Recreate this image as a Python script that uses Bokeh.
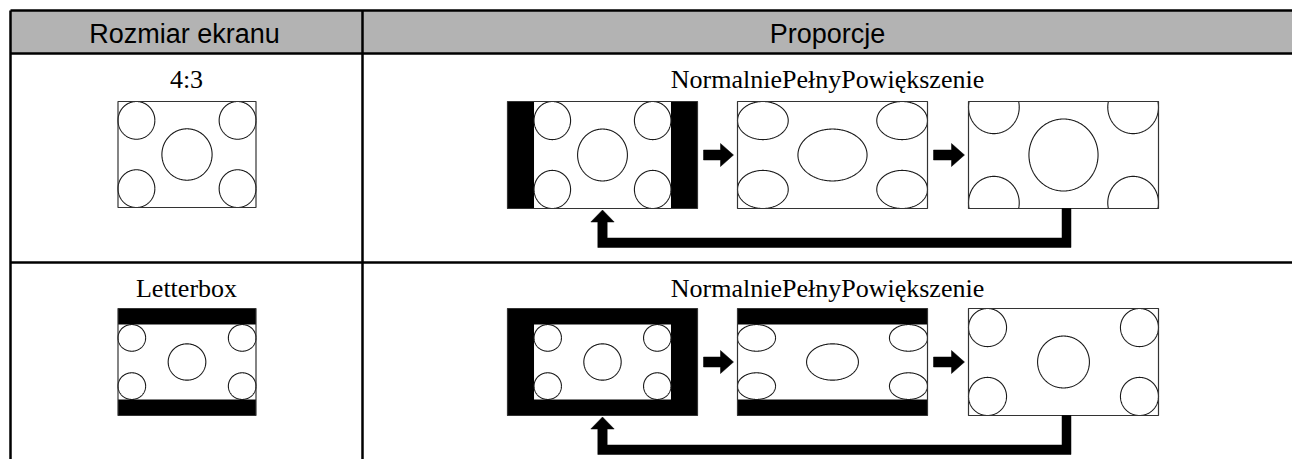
import numpy as np
from bokeh.plotting import figure
from bokeh.models import Range1d
from bokeh.core.properties import value
from bokeh.embed import file_html
from bokeh.resources import INLINE

# ---------------- content ----------------
header_labels = ["Rozmiar ekranu", "Proporcje"]
screen_sizes = ["4:3", "Letterbox"]
modes = ["Normalnie", "Pełny", "Powiększenie"]
mode_keys = ["normal", "full", "zoom"]
picture_aspects = [4 / 3, 16 / 9]       # aspect of the picture itself
letterbox_fill = [1.0, 0.70]            # share of 4:3 signal height covered by the picture

# ---------------- layout ----------------
W, H = 1292, 459
X0, Y0 = 0, 0
TL, TT = 10, 10          # table left / top
HB, RB = 53, 262         # header bottom, row divider
CD = 362                 # column divider
TR, TB = 1300, 470       # table right / bottom (outside window)
header_base = 33
label_base = [79, 288]
scr_top = [101, 308]
scr_h = 107
col1_w, col1_h = 138, 107
mode_w = 190
mode_x = [507, 737, 968]
SIG = 1.28               # displayed 4:3 signal aspect
R_CORNER, R_CENTER = 0.178, 0.2425
GRAY = "#b3b3b3"

p = figure(width=W, height=H, x_range=Range1d(X0, X0 + W), y_range=Range1d(Y0 + H, Y0),
           output_backend="svg", toolbar_location=None,
           x_axis_location=None, y_axis_location=None, min_border=0)
p.outline_line_color = None
p.grid.visible = False
p.background_fill_color = "white"
p.border_fill_color = "white"

# ---------------- table ----------------
p.quad(left=[TL], right=[TR], top=[TT], bottom=[HB], fill_color=GRAY, line_color=None)
p.segment(x0=[TL, TL, TL, TL, CD], y0=[TT, HB, RB, TT, TT],
          x1=[TR, TR, TR, TL, CD], y1=[TT, HB, RB, TB, TB],
          line_color="black", line_width=2.5)

col1_cx = (TL + CD) / 2
col2_cx = (CD + 1292) / 2
p.text(x=[col1_cx - 2, col2_cx], y=[header_base, header_base], text=header_labels,
       text_font=value("Liberation Sans"), text_font_size="27px",
       text_align="center", text_baseline="alphabetic", text_color="black")
p.text(x=[col1_cx, col1_cx, col2_cx, col2_cx], y=[label_base[0], label_base[1]] * 2,
       text=screen_sizes + ["".join(modes)] * 2,
       text_font=value("Liberation Serif"), text_font_size="26px",
       text_align="center", text_baseline="alphabetic", text_color="black")

# ---------------- panels ----------------
blk = dict(l=[], r=[], t=[], b=[])
wht = dict(l=[], r=[], t=[], b=[])
outl = dict(l=[], r=[], t=[], b=[])
cxs, cys = [], []


def add_box(d, x, y, w, h):
    d["l"].append(x); d["r"].append(x + w); d["t"].append(y); d["b"].append(y + h)


def panel(sx, sy, sw, sh, row, mode):
    if mode == "screen":
        sig = (sx, sy, sw, sh)
    elif mode == "normal":
        w = sh * SIG
        sig = (sx + (sw - w) / 2, sy, w, sh)
    elif mode == "full":
        sig = (sx, sy, sw, sh)
    else:  # zoom
        h = sw / SIG
        sig = (sx, sy + (sh - h) / 2, sw, h)
    if row == 1 and mode == "zoom":
        img = (sx, sy, sw, sh)
    else:
        ih = sig[3] * letterbox_fill[row]
        img = (sig[0], sig[1] + (sig[3] - ih) / 2, sig[2], ih)
    ix, iy, iw, ih = img
    vx0, vx1 = max(ix, sx), min(ix + iw, sx + sw)
    vy0, vy1 = max(iy, sy), min(iy + ih, sy + sh)
    add_box(blk, sx, sy, sw, sh)
    add_box(wht, vx0, vy0, vx1 - vx0, vy1 - vy0)
    add_box(outl, sx, sy, sw, sh)
    a = picture_aspects[row]
    circles = [(R_CORNER, R_CORNER, R_CORNER), (a - R_CORNER, R_CORNER, R_CORNER),
               (R_CORNER, 1 - R_CORNER, R_CORNER), (a - R_CORNER, 1 - R_CORNER, R_CORNER),
               (a / 2, 0.5, R_CENTER)]
    t = np.linspace(0, 2 * np.pi, 241)
    for cu, cv, r in circles:
        u = cu + r * np.cos(t)
        v = cv + r * np.sin(t)
        x = np.clip(ix + u / a * iw, vx0, vx1)
        y = np.clip(iy + v * ih, vy0, vy1)
        cxs.append(x.tolist()); cys.append(y.tolist())


arrows_x, arrows_y = [], []


def arrow_right(x0, x1, yc):
    arrows_x.append([x0, x1 - 13, x1 - 13, x1, x1 - 13, x1 - 13, x0])
    arrows_y.append([yc - 5, yc - 5, yc - 11.5, yc, yc + 11.5, yc + 5, yc + 5])


def loop(xa, xc, yb):
    tip = yb + 1.5
    base = tip + 12
    bot = yb + 39
    th = 9.5
    arrows_x.append([xc - 4.5, xc + 4.5, xc + 4.5, xa - 4.7, xa - 4.7, xa - 11.7, xa,
                     xa + 11.7, xa + 4.7, xa + 4.7, xc - 4.5])
    arrows_y.append([yb, yb, bot, bot, base, base, tip, base, base, bot - th, bot - th])


for row in range(2):
    sy = scr_top[row]
    panel(col1_cx + 0.5 - col1_w / 2, sy, col1_w, col1_h - (1 if row == 0 else 0), row, "screen")
    for k, mk in enumerate(mode_keys):
        panel(mode_x[k], sy, mode_w, scr_h, row, mk)
    yc = sy + scr_h / 2
    for k in range(2):
        arrow_right(mode_x[k] + mode_w + 6, mode_x[k + 1] - 4, yc)
    loop(mode_x[0] + mode_w / 2, mode_x[2] + mode_w / 2 + 3, sy + scr_h)

p.quad(left=blk["l"], right=blk["r"], top=blk["t"], bottom=blk["b"],
       fill_color="black", line_color=None)
p.quad(left=wht["l"], right=wht["r"], top=wht["t"], bottom=wht["b"],
       fill_color="white", line_color=None)
p.multi_line(xs=cxs, ys=cys, line_color="#1a1a1a", line_width=1.1)
p.quad(left=outl["l"], right=outl["r"], top=outl["t"], bottom=outl["b"],
       fill_color=None, line_color="#333333", line_width=1.2)
p.patches(xs=arrows_x, ys=arrows_y, fill_color="black", line_color="black", line_width=0.5)

open("out.html", "w").write(file_html(p, INLINE))
